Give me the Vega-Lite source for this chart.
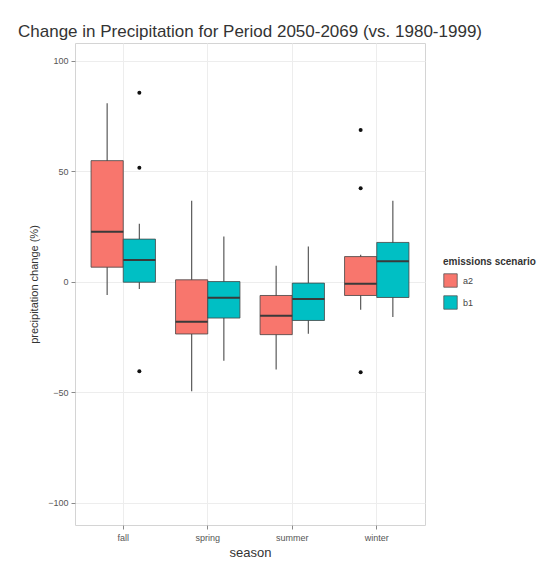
{
  "$schema": "https://vega.github.io/schema/vega-lite/v6.json",
  "autosize": {"type": "none"},
  "padding": {"left": 75, "top": 43, "right": 135, "bottom": 42},
  "width": 350,
  "height": 482,
  "background": "white",
  "title": {
    "text": "Change in Precipitation for Period 2050-2069 (vs. 1980-1999)",
    "anchor": "start",
    "frame": "group",
    "dx": -57,
    "offset": 2,
    "fontSize": 17,
    "fontWeight": "normal",
    "font": "Liberation Sans",
    "color": "#333333"
  },
  "config": {
    "font": "Liberation Sans",
    "view": {"stroke": "#d4d4d4", "strokeWidth": 1},
    "axis": {
      "gridColor": "#ededed",
      "gridWidth": 1,
      "domain": false,
      "tickColor": "#8a8a8a",
      "tickSize": 4,
      "labelColor": "#555555",
      "labelFontSize": 9,
      "titleColor": "#333333",
      "titleFontWeight": "normal"
    }
  },
  "datasets": {
    "stats": [
      {"season": "fall", "scenario": "a2", "lower": -6.0, "q1": 6.6, "median": 22.6, "q3": 54.8, "upper": 80.7},
      {"season": "fall", "scenario": "b1", "lower": -3.3, "q1": -0.2, "median": 9.8, "q3": 19.3, "upper": 26.2},
      {"season": "spring", "scenario": "a2", "lower": -49.5, "q1": -23.6, "median": -18.1, "q3": 0.9, "upper": 36.7},
      {"season": "spring", "scenario": "b1", "lower": -35.7, "q1": -16.4, "median": -7.2, "q3": 0.1, "upper": 20.5},
      {"season": "summer", "scenario": "a2", "lower": -39.7, "q1": -23.9, "median": -15.4, "q3": -6.2, "upper": 7.2},
      {"season": "summer", "scenario": "b1", "lower": -23.5, "q1": -17.5, "median": -7.8, "q3": -0.6, "upper": 16.0},
      {"season": "winter", "scenario": "a2", "lower": -12.6, "q1": -6.2, "median": -0.9, "q3": 11.4, "upper": 12.2},
      {"season": "winter", "scenario": "b1", "lower": -15.9, "q1": -7.1, "median": 9.3, "q3": 17.8, "upper": 36.6}
    ],
    "outliers": [
      {"season": "fall", "scenario": "b1", "value": 85.5},
      {"season": "fall", "scenario": "b1", "value": 51.6},
      {"season": "fall", "scenario": "b1", "value": -40.5},
      {"season": "winter", "scenario": "a2", "value": 68.7},
      {"season": "winter", "scenario": "a2", "value": 42.3},
      {"season": "winter", "scenario": "a2", "value": -40.9}
    ]
  },
  "encoding": {
    "x": {
      "field": "season",
      "type": "nominal",
      "sort": ["fall", "spring", "summer", "winter"],
      "scale": {"paddingInner": 0.238, "paddingOuter": 0.19},
      "axis": {
        "title": "season",
        "titleFontSize": 13,
        "titlePadding": 4,
        "labelAngle": 0,
        "labelPadding": 4,
        "bandPosition": 0.5,
        "grid": true
      }
    },
    "xOffset": {
      "field": "scenario",
      "type": "nominal",
      "scale": {"domain": ["a2", "b1"], "paddingInner": 0, "paddingOuter": 0}
    }
  },
  "layer": [
    {
      "data": {"name": "stats"},
      "mark": {"type": "rule", "color": "#5a5a5a", "strokeWidth": 1.2},
      "encoding": {
        "y": {
          "field": "lower",
          "type": "quantitative",
          "scale": {"domain": [-110, 108], "nice": false, "zero": false},
          "axis": {
            "title": "precipitation change (%)",
            "titleFontSize": 11,
            "titlePadding": 8,
            "values": [-100, -50, 0, 50, 100],
            "labelPadding": 3
          }
        },
        "y2": {"field": "upper"}
      }
    },
    {
      "data": {"name": "stats"},
      "mark": {"type": "bar", "stroke": "#444444", "strokeWidth": 0.8},
      "encoding": {
        "y": {"field": "q1", "type": "quantitative"},
        "y2": {"field": "q3"},
        "fill": {
          "field": "scenario",
          "type": "nominal",
          "scale": {"domain": ["a2", "b1"], "range": ["#F8766D", "#00BFC4"]},
          "legend": {
            "title": "emissions scenario",
            "orient": "none",
            "legendX": 368,
            "legendY": 214,
            "titleFontSize": 10,
            "titleFontWeight": "bold",
            "titleColor": "#333333",
            "titlePadding": 6,
            "labelFontSize": 9,
            "labelColor": "#444444",
            "symbolType": "square",
            "symbolSize": 180,
            "symbolStrokeColor": "#555555",
            "symbolStrokeWidth": 0.8,
            "symbolOpacity": 1,
            "rowPadding": 5,
            "labelOffset": 5
          }
        }
      }
    },
    {
      "data": {"name": "stats"},
      "mark": {"type": "bar", "fillOpacity": 0, "stroke": "#3a3a3a", "strokeWidth": 2},
      "encoding": {
        "y": {"field": "median", "type": "quantitative"},
        "y2": {"field": "median"}
      }
    },
    {
      "data": {"name": "outliers"},
      "mark": {"type": "point", "filled": true, "color": "#111111", "size": 16, "opacity": 1},
      "encoding": {
        "y": {"field": "value", "type": "quantitative"}
      }
    }
  ]
}
